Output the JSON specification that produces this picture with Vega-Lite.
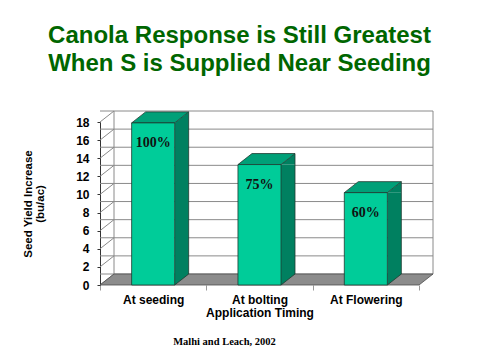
{
  "$schema": "https://vega.github.io/schema/vega-lite/v6.json",
  "width": 319,
  "height": 163,
  "autosize": "none",
  "padding": {"left": 100, "top": 122, "right": 61, "bottom": 75},
  "background": "white",
  "config": {"view": {"stroke": null}, "font": "Liberation Sans"},
  "title": {
    "text": ["Canola Response is Still Greatest", "When S is Supplied Near Seeding"],
    "font": "Liberation Sans",
    "fontSize": 24,
    "fontWeight": "bold",
    "color": "#006600",
    "lineHeight": 28,
    "anchor": "middle",
    "dx": -20,
    "offset": 34
  },
  "datasets": {
    "bars": [
      {"timing": "At seeding", "increase": 17.9, "label": "100%"},
      {"timing": "At bolting", "increase": 13.3, "label": "75%"},
      {"timing": "At Flowering", "increase": 10.2, "label": "60%"}
    ],
    "grid": [
      {"g": 0}, {"g": 2}, {"g": 4}, {"g": 6}, {"g": 8}, {"g": 10}, {"g": 12}, {"g": 14}, {"g": 16}, {"g": 18}
    ]
  },
  "layer": [
    {
      "data": {"name": "bars"},
      "mark": {"type": "bar", "width": {"band": 0.405}, "fill": "#00CC99", "stroke": "#1f3a30", "strokeWidth": 0.8, "opacity": 0},
      "encoding": {
        "x": {
          "field": "timing", "type": "nominal", "sort": null,
          "scale": {"domain": ["At seeding", "At bolting", "At Flowering"], "paddingInner": 0, "paddingOuter": 0},
          "axis": {
            "title": "Application Timing", "labelAngle": 0, "domain": false, "tickBand": "extent",
            "tickSize": 5, "tickColor": "#999999", "labelFontSize": 12, "labelFontWeight": "bold",
            "labelPadding": 4, "labelColor": "black", "titleFontSize": 12, "titleFontWeight": "bold",
            "titlePadding": 2, "titleColor": "black", "labelFont": "Liberation Sans", "titleFont": "Liberation Sans"
          }
        },
        "y": {
          "field": "increase", "type": "quantitative",
          "scale": {"domain": [0, 18], "nice": false, "zero": true},
          "axis": {
            "title": ["Seed Yield Increase", "(bu/ac)"], "titleFont": "Liberation Sans", "titleFontSize": 11.5,
            "titleFontWeight": "bold", "titleLineHeight": 12, "titlePadding": 30, "titleColor": "black",
            "labelFont": "Liberation Sans", "labelFontSize": 12, "labelFontWeight": "bold", "labelPadding": 8,
            "labelColor": "black", "labelOverlap": false, "labelBound": false, "labelFlush": false,
            "tickSize": 3, "tickCount": 10, "values": [0, 2, 4, 6, 8, 10, 12, 14, 16, 18],
            "grid": false, "domainColor": "#333333", "tickColor": "#333333"
          }
        }
      }
    },
    {
      "data": {"name": "grid"},
      "mark": {"type": "rule", "xOffset": 14, "x2Offset": 14, "yOffset": -11, "color": "#8a8a8a", "strokeWidth": 1},
      "encoding": {"y": {"field": "g", "type": "quantitative"}}
    },
    {
      "data": {"name": "grid"},
      "mark": {"type": "rule", "x2Offset": 14, "y2Offset": -11, "color": "#8a8a8a", "strokeWidth": 1},
      "encoding": {
        "x": {"datum": "At seeding", "bandPosition": 0},
        "x2": {"datum": "At seeding", "bandPosition": 0},
        "y": {"field": "g", "type": "quantitative"},
        "y2": {"field": "g"}
      }
    },
    {
      "data": {"values": [{}]},
      "mark": {"type": "rule", "xOffset": 14, "yOffset": -11, "y2Offset": -11, "color": "#8a8a8a", "strokeWidth": 1},
      "encoding": {"x": {"datum": "At seeding", "bandPosition": 0}, "y": {"datum": 0}, "y2": {"datum": 18}}
    },
    {
      "data": {"values": [{}]},
      "mark": {"type": "rule", "xOffset": 14, "yOffset": -11, "y2Offset": -11, "color": "#8a8a8a", "strokeWidth": 1},
      "encoding": {"x": {"datum": "At Flowering", "bandPosition": 1}, "y": {"datum": 0}, "y2": {"datum": 18}}
    },
    {
      "data": {"values": [{}]},
      "mark": {"type": "point", "shape": "M0,0L319,0L333,-11L14,-11Z", "size": 4, "filled": true, "fill": "#8c8c8c", "stroke": "#4d4d4d", "strokeWidth": 0.8, "opacity": 1},
      "encoding": {"x": {"datum": "At seeding", "bandPosition": 0}, "y": {"datum": 0}}
    },
    {
      "data": {"name": "bars"},
      "mark": {"type": "rule", "xOffset": 28.5, "y2Offset": -11, "strokeWidth": 14, "strokeCap": "butt", "color": "#008060"},
      "encoding": {"x": {"field": "timing", "type": "nominal"}, "y": {"field": "increase", "type": "quantitative"}, "y2": {"datum": 0}}
    },
    {
      "data": {"name": "bars"},
      "mark": {"type": "point", "shape": "M21.5,0L35.5,-11L35.5,0Z", "size": 4, "filled": true, "fill": "#008060", "strokeWidth": 0, "opacity": 1},
      "encoding": {"x": {"field": "timing", "type": "nominal"}, "y": {"field": "increase", "type": "quantitative"}}
    },
    {
      "data": {"name": "bars"},
      "mark": {"type": "point", "shape": "M21.5,0L21.5,-11L35.5,-11Z", "size": 4, "filled": true, "fill": "#008060", "strokeWidth": 0, "opacity": 1},
      "encoding": {"x": {"field": "timing", "type": "nominal"}, "y": {"datum": 0}}
    },
    {
      "data": {"name": "bars"},
      "mark": {"type": "rule", "xOffset": 35.5, "yOffset": -11, "y2Offset": -11, "strokeWidth": 0.8, "color": "#1f3a30"},
      "encoding": {"x": {"field": "timing", "type": "nominal"}, "y": {"field": "increase", "type": "quantitative"}, "y2": {"datum": 0}}
    },
    {
      "data": {"name": "bars"},
      "mark": {"type": "point", "shape": "M21.5,0L35.5,-11", "size": 4, "filled": false, "stroke": "#1f3a30", "strokeWidth": 0.8, "opacity": 1},
      "encoding": {"x": {"field": "timing", "type": "nominal"}, "y": {"datum": 0}}
    },
    {
      "data": {"name": "bars"},
      "mark": {"type": "point", "shape": "M-21.5,0L21.5,0L35.5,-11L-7.5,-11Z", "size": 4, "filled": true, "fill": "#00A078", "stroke": "#1f3a30", "strokeWidth": 0.8, "opacity": 1},
      "encoding": {"x": {"field": "timing", "type": "nominal"}, "y": {"field": "increase", "type": "quantitative"}}
    },
    {
      "data": {"name": "bars"},
      "mark": {"type": "bar", "width": {"band": 0.405}, "fill": "#00CC99", "stroke": "#1f3a30", "strokeWidth": 0.8},
      "encoding": {"x": {"field": "timing", "type": "nominal"}, "y": {"field": "increase", "type": "quantitative"}}
    },
    {
      "data": {"name": "bars"},
      "mark": {"type": "text", "dy": 20, "baseline": "middle", "font": "Liberation Serif", "fontSize": 14, "fontWeight": "bold", "color": "#111111"},
      "encoding": {"x": {"field": "timing", "type": "nominal"}, "y": {"field": "increase", "type": "quantitative"}, "text": {"field": "label"}}
    },
    {
      "data": {"values": [{"source": "Malhi and Leach, 2002"}]},
      "mark": {"type": "text", "dx": -35, "dy": 60, "baseline": "alphabetic", "font": "Liberation Serif", "fontSize": 10.5, "fontWeight": "bold", "color": "black"},
      "encoding": {"x": {"datum": "At bolting"}, "y": {"datum": 0}, "text": {"field": "source"}}
    }
  ]
}
